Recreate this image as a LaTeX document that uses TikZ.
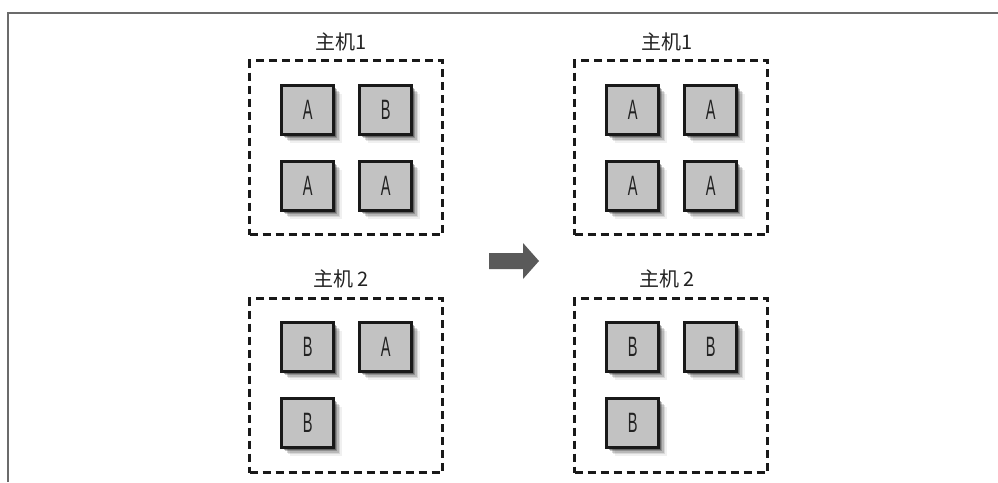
\documentclass[tikz,border=0pt]{standalone}
\usepackage{fontspec}
\newfontfamily\cjk{Noto Sans CJK SC}
\newfontfamily\lat{Liberation Sans}
\definecolor{framegray}{HTML}{6B6B6B}
\definecolor{boxfill}{HTML}{C2C2C2}
\definecolor{arrowgray}{HTML}{5A5A5A}
\definecolor{txt}{HTML}{222222}
\tikzset{
  host/.style={draw=black!90, line width=3pt, dash pattern=on 8pt off 5pt,
    minimum width=193pt, minimum height=174pt, inner sep=0pt},
  hostlabel/.style={font=\cjk\fontsize{20}{20}\selectfont, text=txt, inner sep=0pt},
  vm/.style={draw=black!90, line width=3.4pt, fill=boxfill, minimum width=52pt,
    minimum height=49pt, inner sep=0pt, anchor=north west, text=txt,
    font=\lat\fontsize{28}{28}\selectfont,
    preaction={fill=black, fill opacity=0.06, draw=none, transform canvas={shift={(8pt,-8pt)}}},
    preaction={fill=black, fill opacity=0.10, draw=none, transform canvas={shift={(6.5pt,-6.5pt)}}},
    preaction={fill=black, fill opacity=0.15, draw=none, transform canvas={shift={(5pt,-5pt)}}},
    preaction={fill=black, fill opacity=0.22, draw=none, transform canvas={shift={(3.5pt,-3.5pt)}}},
    preaction={fill=black, fill opacity=0.30, draw=none, transform canvas={shift={(2pt,-2pt)}}}},
}
\newcommand{\nar}[1]{\scalebox{0.52}[1]{#1}}
\begin{document}
\begin{tikzpicture}[x=1pt,y=-1pt]
\useasboundingbox (0,0) rectangle (998,482);
% frame
\draw[framegray, line width=1.3pt] (8,482) -- (8,13) -- (998,13);
% hosts
\node[host, anchor=north west] (h1L) at (248,59) {};
\node[host, anchor=north west] (h2L) at (248,297) {};
\node[host, anchor=north west] (h1R) at (573,59) {};
\node[host, anchor=north west] (h2R) at (573,297) {};
% labels
\node[hostlabel] (t1L) at (341,42) {主机1};
\node[hostlabel] (t2L) at (341,279) {主机 2};
\node[hostlabel] (t1R) at (667,42) {主机1};
\node[hostlabel] (t2R) at (667,279) {主机 2};
% left host 1
\node[vm] (a1) at (280,84) {\nar{A}};
\node[vm] (a2) at (358,84) {\nar{B}};
\node[vm] (a3) at (280,160) {\nar{A}};
\node[vm] (a4) at (358,160) {\nar{A}};
% left host 2
\node[vm] (b1) at (280,321) {\nar{B}};
\node[vm] (b2) at (358,321) {\nar{A}};
\node[vm] (b3) at (280,397) {\nar{B}};
% right host 1
\node[vm] (c1) at (605,84) {\nar{A}};
\node[vm] (c2) at (683,84) {\nar{A}};
\node[vm] (c3) at (605,160) {\nar{A}};
\node[vm] (c4) at (683,160) {\nar{A}};
% right host 2
\node[vm] (d1) at (605,321) {\nar{B}};
\node[vm] (d2) at (683,321) {\nar{B}};
\node[vm] (d3) at (605,397) {\nar{B}};
% arrow
\fill[arrowgray] (489,253) -- (523,253) -- (523,243) -- (539,261) -- (523,279) -- (523,269) -- (489,269) -- cycle;
\end{tikzpicture}
\end{document}
